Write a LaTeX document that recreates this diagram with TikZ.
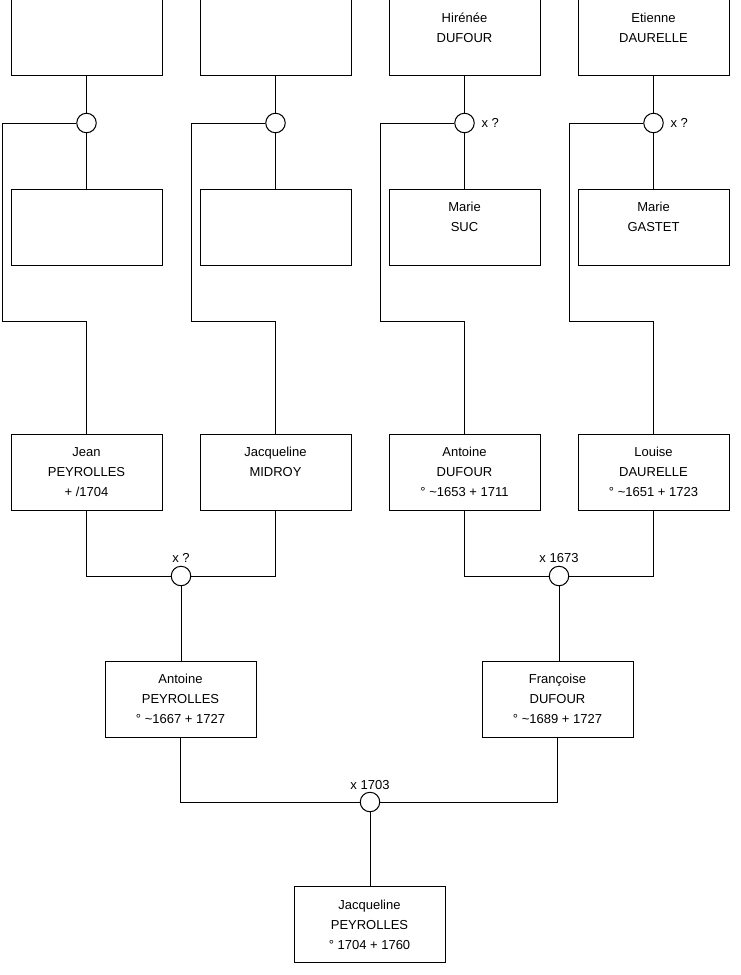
\documentclass[tikz,border=0pt]{standalone}
\usepackage{fontspec}
\setmainfont{Liberation Sans}
\begin{document}
\begin{tikzpicture}[x=1pt,y=-1pt,
  line width=1pt,
  person/.style={draw, fill=white, minimum width=151pt, minimum height=76pt, inner sep=0pt,
    align=center, font=\fontsize{13}{20}\selectfont},
  union/.style={draw, fill=white, circle, minimum size=19.5pt, inner sep=0pt},
  lbl/.style={font=\fontsize{13}{15}\selectfont, inner sep=0pt}
]
\useasboundingbox (0,0) rectangle (740,975);
\fill[white] (0,0) rectangle (740,975);

% row 1
\node[person] (t1) at (86.5,37.5) {};
\node[person] (t2) at (275.5,37.5) {};
\node[person] (t3) at (464.5,37.5) {Hirénée\\DUFOUR\\~};
\node[person] (t4) at (653.5,37.5) {Etienne\\DAURELLE\\~};
% row 2
\node[person] (m1) at (86.5,227) {};
\node[person] (m2) at (275.5,227) {};
\node[person] (m3) at (464.5,227) {Marie\\SUC\\~};
\node[person] (m4) at (653.5,227) {Marie\\GASTET\\~};
% row 3
\node[person] (jean) at (86.5,472) {Jean\\PEYROLLES\\+ /1704};
\node[person] (jacq) at (275.5,472) {Jacqueline\\MIDROY\\~};
\node[person] (antd) at (464.5,472) {Antoine\\DUFOUR\\° \textasciitilde1653 + 1711};
\node[person] (lou) at (653.5,472) {Louise\\DAURELLE\\° \textasciitilde1651 + 1723};
% row 4
\node[person] (antp) at (180.5,699) {Antoine\\PEYROLLES\\° \textasciitilde1667 + 1727};
\node[person] (fra) at (557.5,699) {Françoise\\DUFOUR\\° \textasciitilde1689 + 1727};
% row 5
\node[person] (jacp) at (369.5,924.5) {Jacqueline\\PEYROLLES\\° 1704 + 1760};

% unions row 1
\node[union] (c1) at (86.5,123) {};
\node[union] (c2) at (275.5,123) {};
\node[union] (c3) at (464.5,123) {};
\node[union] (c4) at (653.5,123) {};
% unions lower
\node[union] (u1) at (181,576) {};
\node[union] (u2) at (559,576) {};
\node[union] (u3) at (370,802) {};

% turn points
\coordinate (k1a) at (2,123);   \coordinate (k1b) at (2,321);
\coordinate (k2a) at (191,123); \coordinate (k2b) at (191,321);
\coordinate (k3a) at (380,123); \coordinate (k3b) at (380,321);
\coordinate (k4a) at (569,123); \coordinate (k4b) at (569,321);

% connectors row 1-2
\foreach \i in {1,2,3,4}{
  \draw (t\i.south) -- (c\i.north);
  \draw (c\i.south) -- (m\i.north);
}
\draw (c1.west) -- (k1a) -- (k1b) -| (jean.north);
\draw (c2.west) -- (k2a) -- (k2b) -| (jacq.north);
\draw (c3.west) -- (k3a) -- (k3b) -| (antd.north);
\draw (c4.west) -- (k4a) -- (k4b) -| (lou.north);

% row 3 unions
\draw (jean.south) |- (u1.west);
\draw (jacq.south) |- (u1.east);
\draw (u1.south) -- (u1.south |- antp.north);
\draw (antd.south) |- (u2.west);
\draw (lou.south) |- (u2.east);
\draw (u2.south) -- (u2.south |- fra.north);

% row 4 union
\draw (antp.south) |- (u3.west);
\draw (fra.south) |- (u3.east);
\draw (u3.south) -- (u3.south |- jacp.north);

% labels
\node[lbl, anchor=base west] (l3) at (481,127.5) {x ?};
\node[lbl, anchor=base west] (l4) at (670,127.5) {x ?};
\node[lbl, anchor=base] (l5) at (181,562.5) {x ?};
\node[lbl, anchor=base] (l6) at (559,562.5) {x 1673};
\node[lbl, anchor=base] (l7) at (370,789) {x 1703};
\end{tikzpicture}
\end{document}
